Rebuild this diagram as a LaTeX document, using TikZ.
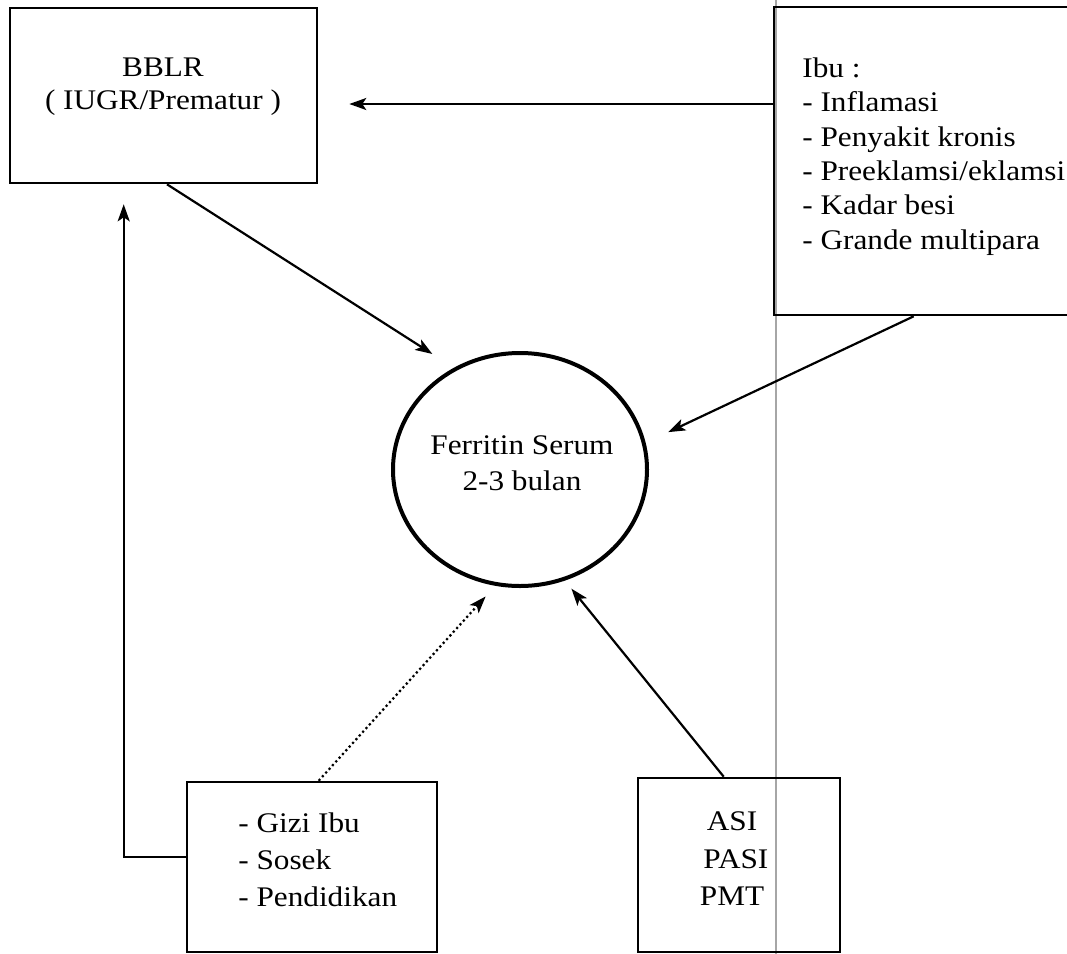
\documentclass[tikz,border=0pt]{standalone}
\usepackage{fontspec}
\setmainfont{Liberation Serif}[FakeStretch=1.1]
\usetikzlibrary{arrows.meta,calc,shapes.geometric}

\begin{document}
\begin{tikzpicture}[x=0.5pt,y=-0.5pt]
\tikzset{kotak/.style={draw, line width=1.3pt, inner sep=0pt},
  teks/.style={inner sep=0pt, font=\fontsize{14.2}{17}\selectfont},
  panah/.style={-{Stealth[length=8.5pt,width=6pt,inset=2pt]}, line width=1.1pt}}
\useasboundingbox (0,0) rectangle (1067,954);
\clip (0,0) rectangle (1067,954);
\draw[gray!70, line width=0.8pt] (776,0) -- (776,954);
\node[kotak, minimum width=153.5pt, minimum height=87.5pt] (bblr) at (163.5,95.5) {};
\node[kotak, minimum width=153pt, minimum height=154pt] (ibu) at (927,161) {};
\node[kotak, ellipse, line width=2pt, minimum width=127pt, minimum height=116.5pt] (ferritin) at (520,469.5) {};
\node[kotak, minimum width=125pt, minimum height=85pt] (gizi) at (312,867) {};
\node[kotak, minimum width=101pt, minimum height=87pt] (asi) at (739,865) {};
\node[teks, align=center, font=\fontsize{14.2}{16.5}\selectfont] (bblrtxt) at (163,86.5) {BBLR\\( IUGR/Prematur )};
\node[teks, align=left, anchor=west, font=\fontsize{14.2}{17.2}\selectfont] (ibutxt) at (802,156.5) {Ibu :\\- Inflamasi\\- Penyakit kronis\\- Preeklamsi/eklamsi\\- Kadar besi\\- Grande multipara};
\node[teks, align=center, font=\fontsize{14.2}{18}\selectfont] (ferrtxt) at (522,463.5) {Ferritin Serum\\2-3 bulan};
\node[teks, align=left, anchor=west, font=\fontsize{14.2}{18.4}\selectfont] (gizitxt) at (238,860) {- Gizi Ibu\\- Sosek\\- Pendidikan};
\node[teks, align=center, font=\fontsize{14.2}{18.75}\selectfont] (asitxt) at (732,859) {ASI\\\ PASI\\PMT};
\draw[panah] ($(ibu.west)+(0,-57)$) -- ($(bblr.east)+(31,8.5)$);
\draw[panah, shorten >=12.8pt] ($(bblr.south)+(3.5,0)$) -- (ferritin.123);
\draw[panah, shorten >=12.5pt] ($(ibu.south west)+(141,0)$) -- (ferritin.12.75);
\draw[panah, dash pattern=on 1.1pt off 1.4pt, shorten >=7.2pt] ($(gizi.north west)+(133,0)$) -- (ferritin.258);
\draw[panah, shorten >=5.2pt] ($(asi.north west)+(87,0)$) -- (ferritin.292);
\draw[panah] ($(gizi.west)+(0,-10)$) -| ($(bblr.south west)+(115,20)$);
\end{tikzpicture}
\end{document}
